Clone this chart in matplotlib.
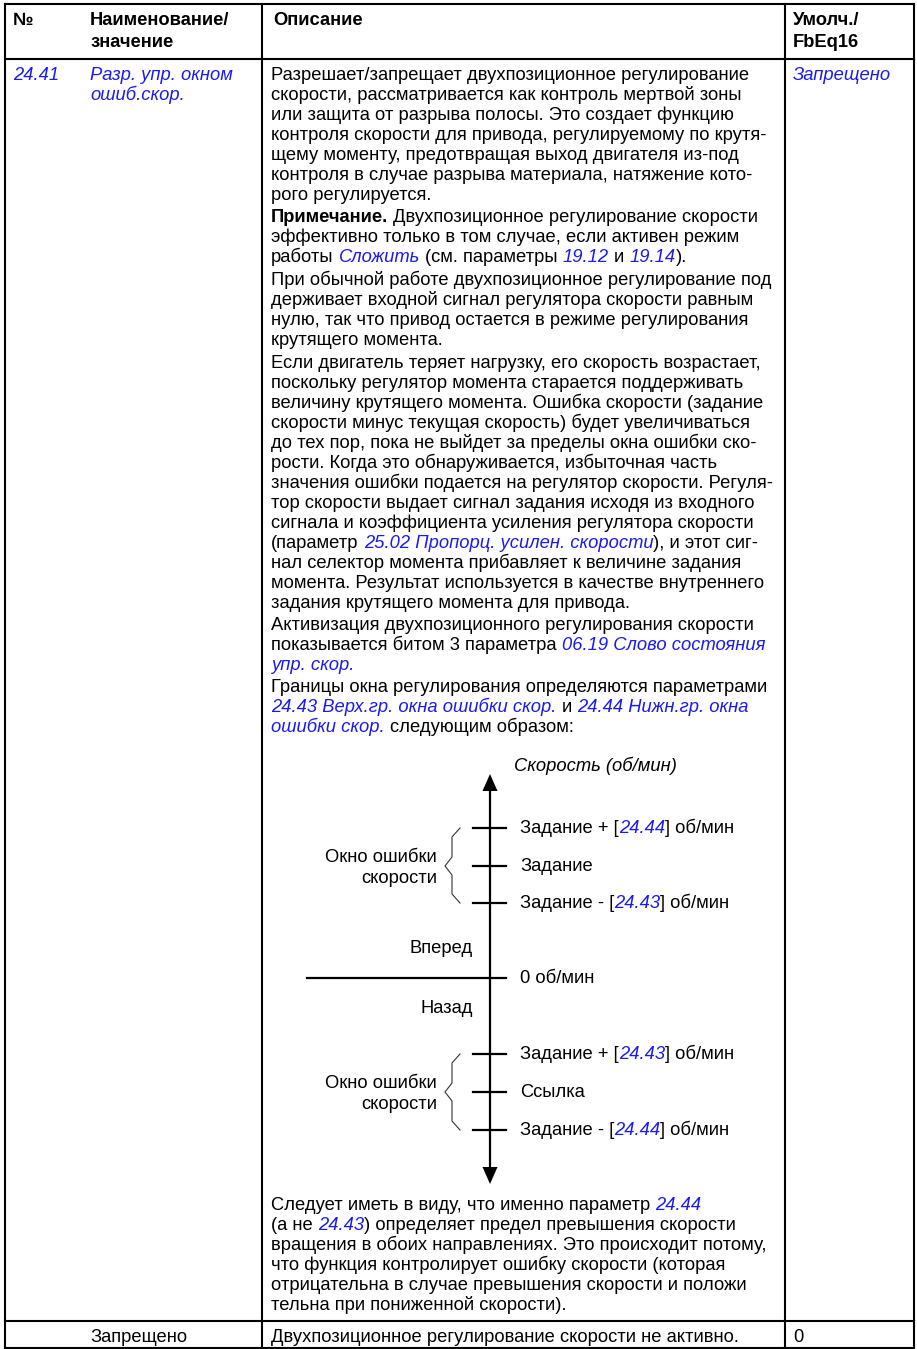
import matplotlib
matplotlib.use('Agg')
import matplotlib.pyplot as plt
from matplotlib.font_manager import FontProperties
from matplotlib.patches import Polygon

W, H = 917, 1349
BLUE = '#1a1af2'
FONT = ['Liberation Sans', 'DejaVu Sans']
FS = 13.2

# ---- table content ----
header_cols = [['№'], ['Наименование/', 'значение'], ['Описание'], ['Умолч./', 'FbEq16']]
param_id = '24.41'
param_name = ['Разр. упр. окном', 'ошиб.скор.']
param_default = 'Запрещено'

# text runs: plain strings, or lists of (text, style); n = normal, b = bold, l = link
para_intro = [
    'Разрешает/запрещает двухпозиционное регулирование',
    'скорости, рассматривается как контроль мертвой зоны',
    'или защита от разрыва полосы. Это создает функцию',
    'контроля скорости для привода, регулируемому по крутя-',
    'щему моменту, предотвращая выход двигателя из-под',
    'контроля в случае разрыва материала, натяжение кото-',
    'рого регулируется.',
]
para_note = [
    [('Примечание.', 'b'), (' Двухпозиционное регулирование скорости', 'n')],
    'эффективно только в том случае, если активен режим',
    [('работы ', 'n'), ('Сложить', 'l'), (' (см. параметры ', 'n'), ('19.12', 'l'),
     (' и ', 'n'), ('19.14', 'l'), (').', 'n')],
]
para_normal = [
    'При обычной работе двухпозиционное регулирование под',
    'держивает входной сигнал регулятора скорости равным',
    'нулю, так что привод остается в режиме регулирования',
    'крутящего момента.',
]
para_loss = [
    'Если двигатель теряет нагрузку, его скорость возрастает,',
    'поскольку регулятор момента старается поддерживать',
    'величину крутящего момента. Ошибка скорости (задание',
    'скорости минус текущая скорость) будет увеличиваться',
    'до тех пор, пока не выйдет за пределы окна ошибки ско-',
    'рости. Когда это обнаруживается, избыточная часть',
    'значения ошибки подается на регулятор скорости. Регуля-',
    'тор скорости выдает сигнал задания исходя из входного',
    'сигнала и коэффициента усиления регулятора скорости',
    [('(параметр ', 'n'), ('25.02 Пропорц. усилен. скорости', 'l'), ('), и этот сиг-', 'n')],
    'нал селектор момента прибавляет к величине задания',
    'момента. Результат используется в качестве внутреннего',
    'задания крутящего момента для привода.',
]
para_status = [
    'Активизация двухпозиционного регулирования скорости',
    [('показывается битом 3 параметра ', 'n'), ('06.19 Слово состояния', 'l')],
    [('упр. скор.', 'l')],
]
para_limits = [
    'Границы окна регулирования определяются параметрами',
    [('24.43 Верх.гр. окна ошибки скор.', 'l'), (' и ', 'n'), ('24.44 Нижн.гр. окна', 'l')],
    [('ошибки скор.', 'l'), (' следующим образом:', 'n')],
]
para_after = [
    [('Следует иметь в виду, что именно параметр ', 'n'), ('24.44', 'l')],
    [('(а не ', 'n'), ('24.43', 'l'), (') определяет предел превышения скорости', 'n')],
    'вращения в обоих направлениях. Это происходит потому,',
    'что функция контролирует ошибку скорости (которая',
    'отрицательна в случае превышения скорости и положи',
    'тельна при пониженной скорости).',
]

# diagram labels
axis_title = 'Скорость (об/мин)'
upper_labels = [[('Задание + [', 'n'), ('24.44', 'l'), ('] об/мин', 'n')],
                'Задание',
                [('Задание - [', 'n'), ('24.43', 'l'), ('] об/мин', 'n')]]
lower_labels = [[('Задание + [', 'n'), ('24.43', 'l'), ('] об/мин', 'n')],
                'Ссылка',
                [('Задание - [', 'n'), ('24.44', 'l'), ('] об/мин', 'n')]]
window_label = ['Окно ошибки', 'скорости']
zero_label = '0 об/мин'
fwd_label, rev_label = 'Вперед', 'Назад'

value_name = 'Запрещено'
value_desc = 'Двухпозиционное регулирование скорости не активно.'
value_code = '0'

# ---- figure ----
fig = plt.figure(figsize=(W / 100, H / 100), dpi=100)
ax = fig.add_axes([0, 0, 1, 1])
ax.set_xlim(0, W)
ax.set_ylim(H, 0)
ax.axis('off')
rend = fig.canvas.get_renderer()

STYLES = {
    'n': dict(color='black', weight='normal', style='normal'),
    'b': dict(color='black', weight='bold', style='normal'),
    'l': dict(color=BLUE, weight='normal', style='italic'),
    'i': dict(color='black', weight='normal', style='italic'),
}


def seg_width(s, st, size=FS):
    fp = FontProperties(family=FONT, size=size, weight=STYLES[st]['weight'], style=STYLES[st]['style'])
    w1 = rend.get_text_width_height_descent('|' + s + '|', fp, ismath=False)[0]
    w0 = rend.get_text_width_height_descent('||', fp, ismath=False)[0]
    return w1 - w0


def runs(line):
    return [(line, 'n')] if isinstance(line, str) else line


def draw_line(x, yc, line, ha='left', size=FS):
    parts = runs(line)
    total = sum(seg_width(s, st, size) for s, st in parts)
    if ha == 'right':
        x -= total
    elif ha == 'center':
        x -= total / 2
    for s, st in parts:
        lead = len(s) - len(s.lstrip(' '))
        xs = x + (seg_width(' ' * lead + 'a', st, size) - seg_width('a', st, size) if lead else 0)
        ax.text(xs, yc + 5, s.strip(' '), family=FONT, fontsize=size, va='baseline', ha='left',
                **STYLES[st])
        x += seg_width(s, st, size)


# borders
lw = 1.5
x_left, x_desc, x_def, x_right = 5, 262, 785, 914
y_top, y_head, y_row, y_bot = 4, 59, 1321, 1348
for y in (y_top, y_head, y_row, y_bot):
    ax.plot([x_left, x_right], [y, y], color='black', lw=lw, solid_capstyle='projecting')
for x in (x_left, x_desc, x_def, x_right):
    ax.plot([x, x], [y_top, y_bot], color='black', lw=lw, solid_capstyle='projecting')

# header
head_x = [13, 90, 273, 793]
for hx, lines in zip(head_x, header_cols):
    for k, t in enumerate(lines):
        draw_line(hx, 20 + 22 * k, [(t, 'b')])

# parameter cells
draw_line(13, 75, [(param_id, 'l')])
for k, t in enumerate(param_name):
    draw_line(90, 75 + 20 * k, [(t, 'l')])
draw_line(793, 75, [(param_default, 'l')])

# description paragraphs
step, gap = 20, 2.5
y = 75
for para in (para_intro, para_note, para_normal, para_loss, para_status, para_limits):
    for line in para:
        draw_line(271, y, line)
        y += step
    y += gap

y = 1205
for line in para_after:
    draw_line(271, y, line)
    y += step

# ---- speed diagram ----
ax_x = 490
ax.plot([ax_x, ax_x], [788, 1170], color='black', lw=1.6)
ax.add_patch(Polygon([[ax_x, 774], [ax_x - 7.5, 791], [ax_x + 7.5, 791]], closed=True,
                     color='black', lw=0))
ax.add_patch(Polygon([[ax_x, 1184], [ax_x - 7.5, 1167], [ax_x + 7.5, 1167]], closed=True,
                     color='black', lw=0))
draw_line(514, 766, [(axis_title, 'i')])

tick_x0, tick_x1, lab_x = 473, 506, 520


def window(levels, labels):
    for yl, lab in zip(levels, labels):
        ax.plot([tick_x0, tick_x1], [yl, yl], color='black', lw=1.6)
        draw_line(lab_x, yl, lab)
    y1, ym, y2 = levels
    bx = [460, 452, 452, 445, 452, 452, 460]
    by = [y1, y1 + 9, ym - 9, ym, ym + 9, y2 - 9, y2]
    ax.plot(bx, by, color='#333333', lw=0.8)
    draw_line(437, ym - 9, window_label[0], ha='right')
    draw_line(437, ym + 12, window_label[1], ha='right')


window([828, 866, 903], upper_labels)
window([1054, 1092, 1130], lower_labels)

ax.plot([307, tick_x1], [978, 978], color='black', lw=1.6)
draw_line(lab_x, 978, zero_label)
draw_line(473, 948, fwd_label, ha='right')
draw_line(473, 1008, rev_label, ha='right')

# value row
draw_line(90, 1337, value_name)
draw_line(271, 1337, value_desc)
draw_line(793, 1337, value_code)

fig.savefig('out.png', dpi=100)
